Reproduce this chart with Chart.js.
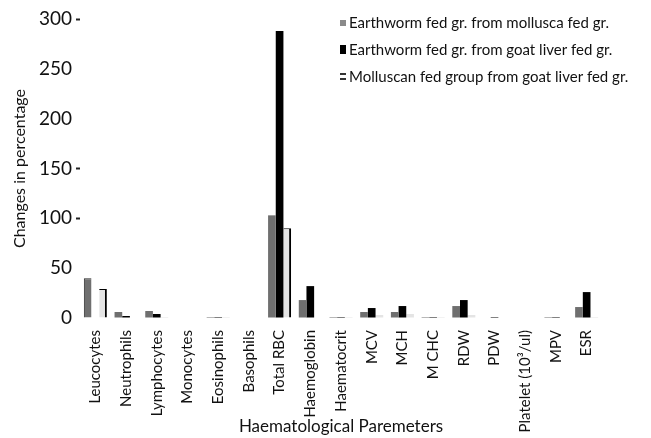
<!DOCTYPE html>
<html>
<head>
<meta charset="utf-8">
<script src="https://cdn.jsdelivr.net/npm/chart.js@4"></script>
<style>
  html, body { margin: 0; padding: 0; background: #fff; }
  #wrap { width: 651px; height: 438px; }
</style>
</head>
<body>
<div id="wrap"><canvas id="grafico" width="651" height="438"></canvas></div>
<script>
// categorie sull'asse X
var parametri = ['Leucocytes', 'Neutrophils', 'Lymphocytes', 'Monocytes', 'Eosinophils', 'Basophils',
  'Total RBC', 'Haemoglobin', 'Haematocrit', 'MCV', 'MCH', 'M CHC', 'RDW', 'PDW',
  'Platelet (10\u00b3/ul)', 'MPV', 'ESR'];

// valori (variazione %)
var lombrico_vs_mollusco = [40, 6, 7, 0, 1, 0, 103, 18, 1, 6, 6, 1, 12, 0, 0, 1, 11];
var lombrico_vs_fegato = [0, 2, 4, 0, 1, 0, 288, 32, 1, 10, 12, 1, 18, 1, 0, 1, 26];
var mollusco_vs_fegato = [29, 0, 1, 0, 1, 0, 90, 0, 1, 3, 4, 1, 3, 0, 0, 0, 1];

var nomi_serie = ['Earthworm fed gr. from mollusca fed gr.',
  'Earthworm fed gr. from goat liver fed gr.',
  'Molluscan fed group from goat liver fed gr.'];

var tick_y = [0, 50, 100, 150, 200, 250, 300];
var tick_con_trattino = [300, 150, 100];

var FONT = 'Lato, "Open Sans", sans-serif';

// legenda disegnata a mano in alto a destra
var legendaPlugin = {
  id: 'legenda',
  afterDraw: function(chart) {
    var ctx = chart.ctx;
    ctx.save();
    ctx.font = '15px ' + FONT;
    ctx.textBaseline = 'middle';
    var righe = [23, 50, 77];
    for (var i = 0; i < chart.data.datasets.length; i++) {
      var y = righe[i];
      if (i == 0) {
        ctx.fillStyle = '#8a8a8a';
        ctx.fillRect(340, y - 3, 6, 6);
      } else if (i == 1) {
        ctx.fillStyle = '#000';
        ctx.fillRect(340, y - 5, 6, 9);
      } else {
        ctx.fillStyle = '#333';
        ctx.fillRect(340, y - 4, 6, 2);
        ctx.fillRect(340, y + 1, 6, 2);
      }
      ctx.fillStyle = '#111';
      ctx.fillText(chart.data.datasets[i].label, 349, y);
    }
    ctx.restore();
  }
};

var ctx = document.getElementById('grafico');
var grafico = new Chart(ctx, {
  type: 'bar',
  data: {
    labels: parametri,
    datasets: [{
      label: nomi_serie[0],
      data: lombrico_vs_mollusco,
      backgroundColor: '#6f6f6f',
      borderColor: '#2a2a2a',
      borderWidth: function(c) {
        return c.raw >= 20 && c.raw < 60 ? {top: 1, left: 1} : 0;
      },
      borderSkipped: 'bottom'
    }, {
      label: nomi_serie[1],
      data: lombrico_vs_fegato,
      backgroundColor: '#000',
      borderWidth: 0
    }, {
      label: nomi_serie[2],
      data: mollusco_vs_fegato,
      backgroundColor: '#e4e4e4',
      borderColor: '#000',
      // bordo nero solo sulle barre alte, come nell'originale
      borderWidth: function(c) {
        return c.raw >= 20 ? {top: 1, right: 2} : 0;
      },
      borderSkipped: 'bottom'
    }]
  },
  options: {
    responsive: false,
    animation: false,
    layout: { padding: { top: 19, right: 49, left: 0, bottom: 0 } },
    plugins: {
      legend: { display: false },
      tooltip: { enabled: false }
    },
    datasets: {
      bar: { categoryPercentage: 0.75, barPercentage: 1 }
    },
    scales: {
      x: {
        grid: { display: false },
        border: { display: false },
        ticks: {
          color: '#111',
          font: { family: FONT, size: 15 },
          minRotation: 90,
          maxRotation: 90,
          autoSkip: false,
          padding: 4
        },
        title: {
          display: true,
          text: 'Haematological Paremeters',
          color: '#111',
          font: { family: FONT, size: 17 },
          padding: { top: 0, bottom: 1 }
        },
        afterFit: function(scale) { scale.height = 120; }
      },
      y: {
        min: 0,
        max: 300,
        border: { display: false },
        grid: {
          drawOnChartArea: false,
          drawTicks: true,
          tickLength: 4,
          tickWidth: 2,
          tickColor: function(c) {
            return tick_con_trattino.indexOf(c.tick.value) >= 0 ? '#222' : 'rgba(0,0,0,0)';
          }
        },
        afterBuildTicks: function(scale) {
          scale.ticks = tick_y.map(function(v) { return { value: v }; });
        },
        ticks: {
          color: '#111',
          font: { family: FONT, size: 19 },
          padding: 4
        },
        title: {
          display: true,
          text: 'Changes in percentage',
          color: '#111',
          font: { family: FONT, size: 16 },
          padding: { top: 10, bottom: 0 }
        },
        afterFit: function(scale) { scale.width = 80; }
      }
    }
  },
  plugins: [legendaPlugin]
});
</script>
</body>
</html>
